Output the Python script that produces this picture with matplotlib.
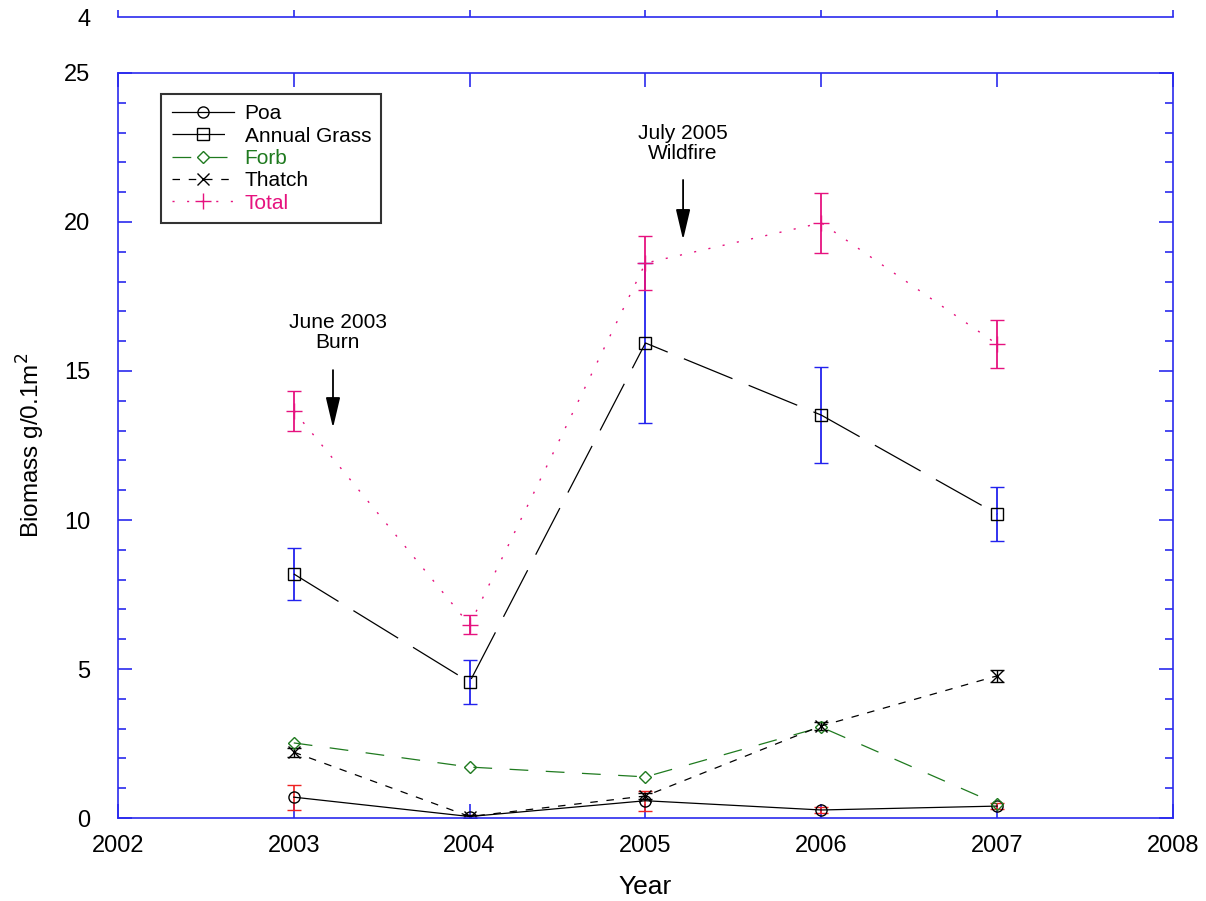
import matplotlib.pyplot as plt
from matplotlib.ticker import MultipleLocator

plt.rcParams['font.family'] = ['Liberation Sans', 'DejaVu Sans']

years = [2003, 2004, 2005, 2006, 2007]
poa = [0.70, 0.05, 0.58, 0.27, 0.40]
poa_err = [0.42, 0.05, 0.33, 0.10, 0.10]
annual = [8.19, 4.56, 15.94, 13.52, 10.20]
annual_err = [0.88, 0.75, 2.70, 1.60, 0.92]
forb = [2.52, 1.71, 1.38, 3.05, 0.47]
forb_err = [0.10, 0.08, 0.08, 0.10, 0.05]
thatch = [2.21, 0.05, 0.74, 3.09, 4.77]
thatch_err = [0.15, 0.05, 0.10, 0.12, 0.20]
total = [13.66, 6.48, 18.62, 19.97, 15.90]
total_err = [0.68, 0.32, 0.90, 1.00, 0.80]

frame_blue = '#2a2aee'
pink = '#e6127f'
green = '#1f7a1f'

fig = plt.figure(figsize=(12.06, 9.01), dpi=100)
ax = fig.add_axes([0.0978, 0.0921, 0.8748, 0.8269])

# error bars
ax.errorbar(years, annual, yerr=annual_err, fmt='none', ecolor='#2222ee', elinewidth=1.3, capsize=5)
ax.errorbar(years, total, yerr=total_err, fmt='none', ecolor=pink, elinewidth=1.3, capsize=5)
ax.errorbar(years, poa, yerr=poa_err, fmt='none', ecolor='#ee2222', elinewidth=1.2, capsize=5)
ax.errorbar(years, thatch, yerr=thatch_err, fmt='none', ecolor='black', elinewidth=1.0, capsize=5)

ax.plot(years, poa, color='black', lw=0.9, marker='o', ms=8, mfc='none', mec='black', label='Poa')
ax.plot(years, annual, color='black', lw=0.9, dashes=(42, 14), marker='s', ms=9, mfc='none', mec='black',
        label='Annual Grass')
ax.plot(years, forb, color=green, lw=0.9, dashes=(15, 14), marker='D', ms=6, mfc='none', mec=green, label='Forb')
ax.plot(years, thatch, color='black', lw=0.9, dashes=(6, 7), marker='x', ms=8, label='Thatch')
ax.plot(years, total, color=pink, lw=1.0, dashes=(1.5, 9), marker='+', ms=11, label='Total')

ax.set_xlim(2002, 2008)
ax.set_ylim(0, 25)
ax.xaxis.set_major_locator(MultipleLocator(1))
ax.yaxis.set_major_locator(MultipleLocator(5))
ax.yaxis.set_minor_locator(MultipleLocator(1))
for s in ax.spines.values():
    s.set_color(frame_blue)
    s.set_linewidth(1.2)
ax.tick_params(which='both', direction='in', top=True, right=True, color=frame_blue, width=1.2)
ax.tick_params(which='major', length=10, labelsize=17)
ax.tick_params(which='minor', length=6)
ax.tick_params(axis='x', pad=12)
ax.tick_params(axis='y', pad=20)
ax.set_xlabel('Year', fontsize=19, labelpad=13)
ax.set_ylabel('Biomass g/0.1m$^{2}$', fontsize=17.5, labelpad=12)

leg = ax.legend(loc='upper left', bbox_to_anchor=(0.041, 0.972), fontsize=15, frameon=True, fancybox=False,
                edgecolor='black', handlelength=3.0, borderpad=0.5, labelspacing=0.16, handletextpad=0.5,
                borderaxespad=0)
leg.get_frame().set_linewidth(1.5)
for txt, c in zip(leg.get_texts(), ['black', 'black', green, 'black', pink]):
    txt.set_color(c)

arrow_kw = dict(arrowstyle='-|>,head_length=0.85,head_width=0.2', color='black', lw=1.3,
                mutation_scale=22, shrinkA=0, shrinkB=0)
ax.text(2003.25, 15.64, 'June 2003\nBurn', ha='center', va='bottom', fontsize=15, linespacing=1.05)
ax.annotate('', xy=(2003.223, 13.09), xytext=(2003.223, 15.03), arrowprops=arrow_kw)
ax.text(2005.21, 21.98, 'July 2005\nWildfire', ha='center', va='bottom', fontsize=15, linespacing=1.05)
ax.annotate('', xy=(2005.214, 19.4), xytext=(2005.214, 21.41), arrowprops=arrow_kw)

# upper panel, mostly cut off by the figure edge
ax2 = fig.add_axes([0.0978, 0.981, 0.8748, 0.3])
ax2.set_xlim(2002, 2008)
ax2.set_ylim(4, 10)
ax2.xaxis.set_major_locator(MultipleLocator(1))
ax2.set_yticks([4])
ax2.set_xticklabels([])
ax2.spines['bottom'].set_color(frame_blue)
ax2.spines['bottom'].set_linewidth(1.2)
for side in ['top', 'left', 'right']:
    ax2.spines[side].set_visible(False)
ax2.tick_params(direction='in', color=frame_blue, width=1.2, length=5, labelsize=17)
ax2.tick_params(axis='y', pad=20, length=0)

fig.savefig('out.png', dpi=100)
